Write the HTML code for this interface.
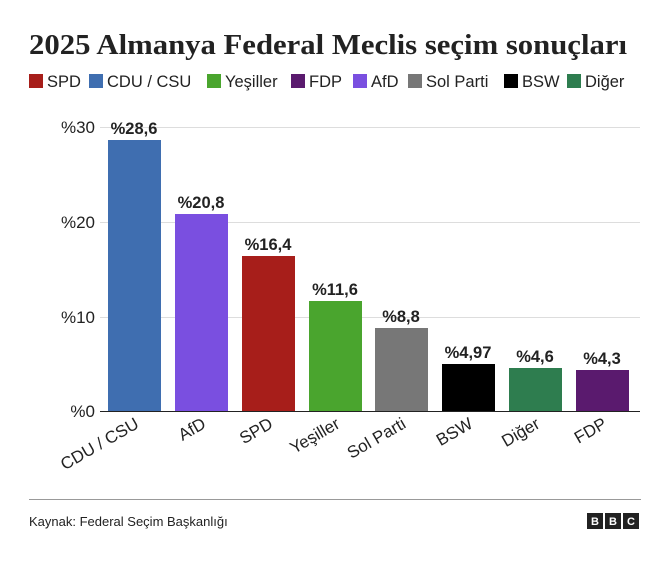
<!DOCTYPE html>
<html><head><meta charset="utf-8"><style>
body{margin:0;background:#fff;width:670px;height:558px;overflow:hidden;font-family:"Liberation Sans",sans-serif;}
</style></head><body>
<svg width="670" height="558" xmlns="http://www.w3.org/2000/svg" font-family="Liberation Sans, sans-serif">
<text x="29" y="54" font-family="Liberation Serif, serif" font-weight="bold" font-size="28" fill="#222" textLength="598" lengthAdjust="spacingAndGlyphs">2025 Almanya Federal Meclis seçim sonuçları</text>
<g font-size="16.5" fill="#222">
<rect x="29" y="74" width="14" height="14" fill="#a71e1a"/><text x="47" y="87">SPD</text>
<rect x="89" y="74" width="14" height="14" fill="#3f6eb0"/><text x="107" y="87">CDU / CSU</text>
<rect x="207" y="74" width="14" height="14" fill="#4aa52e"/><text x="225" y="87">Yeşiller</text>
<rect x="291" y="74" width="14" height="14" fill="#5a1a6e"/><text x="309" y="87">FDP</text>
<rect x="353" y="74" width="14" height="14" fill="#7a4fe0"/><text x="371" y="87">AfD</text>
<rect x="408" y="74" width="14" height="14" fill="#777"/><text x="426" y="87">Sol Parti</text>
<rect x="504" y="74" width="14" height="14" fill="#000"/><text x="522" y="87">BSW</text>
<rect x="567" y="74" width="14" height="14" fill="#2e7d4f"/><text x="585" y="87">Diğer</text>
</g>
<g stroke="#ddd" stroke-width="1">
<line x1="100" y1="127.5" x2="640" y2="127.5"/>
<line x1="100" y1="222.5" x2="640" y2="222.5"/>
<line x1="100" y1="317.5" x2="640" y2="317.5"/>
</g>
<g font-size="17" fill="#222" text-anchor="end">
<text x="95" y="133">%30</text><text x="95" y="228">%20</text><text x="95" y="323">%10</text><text x="95" y="417">%0</text>
</g>
<g>
<rect x="108" y="140" width="53" height="271" fill="#3f6eb0"/>
<rect x="175" y="214" width="53" height="197" fill="#7a4fe0"/>
<rect x="242" y="256" width="53" height="155" fill="#a71e1a"/>
<rect x="309" y="301" width="53" height="110" fill="#4aa52e"/>
<rect x="375" y="328" width="53" height="83" fill="#777"/>
<rect x="442" y="364" width="53" height="47" fill="#000"/>
<rect x="509" y="368" width="53" height="43" fill="#2e7d4f"/>
<rect x="576" y="370" width="53" height="41" fill="#5a1a6e"/>
</g>
<line x1="100" y1="411.5" x2="640" y2="411.5" stroke="#222" stroke-width="1"/>
<g font-size="16.5" font-weight="bold" fill="#222" text-anchor="middle">
<text x="134" y="134">%28,6</text><text x="201" y="208">%20,8</text><text x="268" y="250">%16,4</text>
<text x="335" y="295">%11,6</text><text x="401" y="322">%8,8</text><text x="468" y="358">%4,97</text>
<text x="535" y="362">%4,6</text><text x="602" y="364">%4,3</text>
</g>
<g font-size="17" fill="#222" text-anchor="end">
<text transform="translate(140,427) rotate(-30)">CDU / CSU</text>
<text transform="translate(207,427) rotate(-30)">AfD</text>
<text transform="translate(274,427) rotate(-30)">SPD</text>
<text transform="translate(341,427) rotate(-30)">Yeşiller</text>
<text transform="translate(407,427) rotate(-30)">Sol Parti</text>
<text transform="translate(474,427) rotate(-30)">BSW</text>
<text transform="translate(541,427) rotate(-30)">Diğer</text>
<text transform="translate(608,427) rotate(-30)">FDP</text>
</g>
<line x1="29" y1="499.5" x2="641" y2="499.5" stroke="#999"/>
<text x="29" y="526" font-size="13" fill="#222">Kaynak: Federal Seçim Başkanlığı</text>
<g font-size="11" font-weight="bold" fill="#fff" text-anchor="middle">
<rect x="587" y="513" width="16" height="16" fill="#222"/><text x="595" y="525">B</text>
<rect x="605" y="513" width="16" height="16" fill="#222"/><text x="613" y="525">B</text>
<rect x="623" y="513" width="16" height="16" fill="#222"/><text x="631" y="525">C</text>
</g>
</svg>
</body></html>
